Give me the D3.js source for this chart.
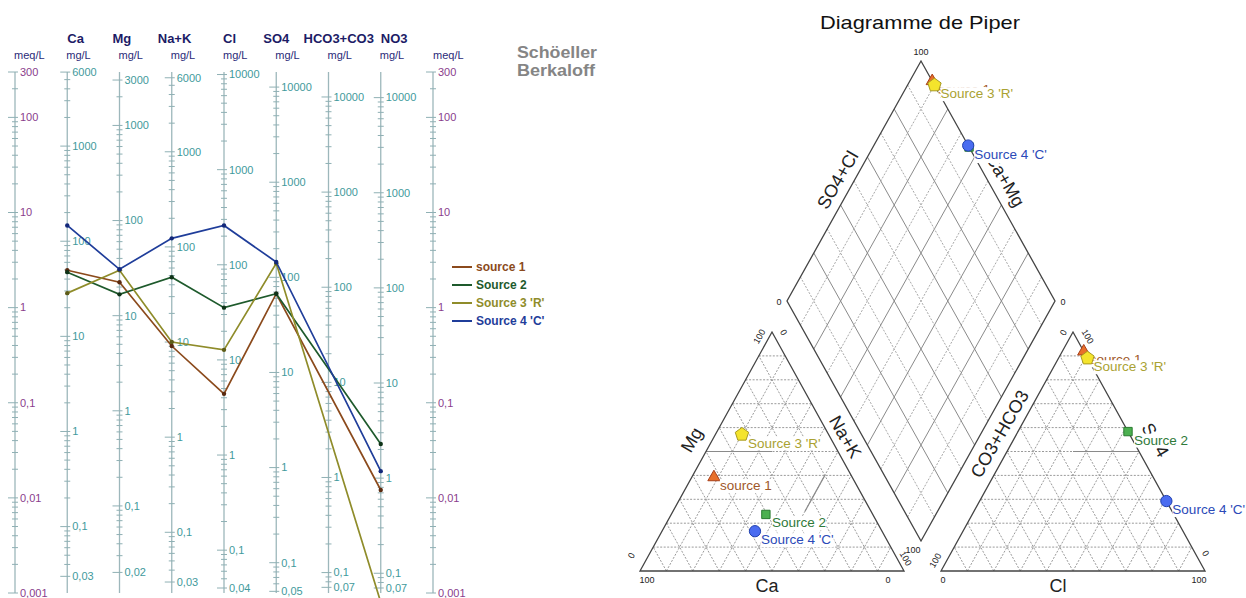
<!DOCTYPE html>
<html>
<head>
<meta charset="utf-8">
<script src="https://cdn.jsdelivr.net/npm/d3@7"></script>
<style>
body { margin: 0; background: #fff; font-family: "Liberation Sans", Arial, sans-serif; }
</style>
</head>
<body>
<div id="chart"></div>
<script>
// ---- data (meq/L) ----
var ions = ["Ca", "Mg", "Na+K", "Cl", "SO4", "HCO3+CO3", "NO3"];
var eqWeights = [20.04, 12.15, 23.0, 35.45, 48.03, 61.02, 62.0];
var meqLabels = [300, 100, 10, 1, 0.1, 0.01, 0.001];
var mgLabels = [
  [6000, 1000, 100, 10, 1, 0.1, 0.03],
  [3000, 1000, 100, 10, 1, 0.1, 0.02],
  [6000, 1000, 100, 10, 1, 0.1, 0.03],
  [10000, 1000, 100, 10, 1, 0.1, 0.04],
  [10000, 1000, 100, 10, 1, 0.1, 0.05],
  [10000, 1000, 100, 10, 1, 0.1, 0.07],
  [10000, 1000, 100, 10, 1, 0.1, 0.07]
];
var sourceNames = ["source 1", "Source 2", "Source 3 'R'", "Source 4 'C'"];
var source1 = [2.47, 1.85, 0.395, 0.124, 1.40, null, 0.0121];
var source2 = [2.36, 1.38, 2.09, 1.0, 1.40, null, 0.0369];
var source3 = [1.42, 2.47, 0.435, 0.36, 2.92, null, 0.0008];
var source4 = [7.31, 2.53, 5.35, 7.3, 3.02, null, 0.0191];
var sources = [source1, source2, source3, source4];

// styles
var lineColors = ["#8b4a1c", "#1e5a2c", "#8f8c2a", "#1f3d9a"];
var dotColors = ["#5a2a10", "#0f3318", "#5e5c18", "#13287a"];
var pipLabelColors = ["#a0582a", "#2f7a3a", "#aaa232", "#2b4ab8"];
var markFill = ["#e8702a", "#4cb050", "#f4e42c", "#4a6cf0"];
var markStroke = ["#a8401a", "#2a7a30", "#a89a20", "#2040b0"];

var svg = d3.select("#chart").append("svg")
  .attr("width", 1246).attr("height", 598);

// ================= Schoeller-Berkaloff =================
var x = d3.scalePoint().domain(["meqL"].concat(ions, ["meqR"])).range([15, 433]);
var yTop = 72, yBot = 593;
var y = d3.scaleLog().domain([300, 0.001]).range([yTop, yBot]);

function logTicks(lo, hi) {
  var t = [];
  for (var e = -4; e <= 5; e++) {
    for (var k = 1; k < 10; k++) {
      var v = +(k * Math.pow(10, e)).toPrecision(3);
      if (v >= lo * 0.999 && v <= hi * 1.001) t.push(v);
    }
  }
  return t;
}
function fmt(v) { return String(v).replace(".", ","); }

function drawAxis(xp, sc, labels, color) {
  var g = svg.append("g");
  g.append("line").attr("x1", xp).attr("x2", xp)
    .attr("y1", yTop).attr("y2", yBot)
    .attr("stroke", "#9db7bb").attr("stroke-width", 1.3);
  var dom = sc.domain();
  var ticks = logTicks(dom[1], dom[0]);
  g.selectAll("line.t").data(ticks).enter().append("line")
    .attr("class", "t")
    .attr("x1", function (d) { return labels.indexOf(d) >= 0 ? xp - 7 : xp - 3; })
    .attr("x2", xp + 3)
    .attr("y1", function (d) { return sc(d); })
    .attr("y2", function (d) { return sc(d); })
    .attr("stroke", "#8fb0b4").attr("stroke-width", 1);
  g.selectAll("text").data(labels).enter().append("text")
    .attr("x", xp + 5)
    .attr("y", function (d) { return sc(d); })
    .attr("dy", "0.35em")
    .attr("font-size", 11)
    .attr("fill", color)
    .text(fmt);
}

drawAxis(x("meqL"), y, meqLabels, "#8a3d8c");
drawAxis(x("meqR"), y, meqLabels, "#8a3d8c");
ions.forEach(function (ion, i) {
  var w = eqWeights[i];
  var sc = d3.scaleLog().domain([300 * w, 0.001 * w]).range([yTop, yBot]);
  drawAxis(x(ion), sc, mgLabels[i], "#3f9a9c");
});

// headers
var headerDx = [0, -7, -14, -1, -13, -25, 0];
ions.forEach(function (ion, i) {
  svg.append("text").attr("x", x(ion) + headerDx[i]).attr("y", 43)
    .attr("font-size", 13).attr("font-weight", "bold").attr("fill", "#1c1c66")
    .text(ion);
  svg.append("text").attr("x", x(ion) - 1).attr("y", 59)
    .attr("font-size", 11).attr("fill", "#2a2a78").text("mg/L");
});
[["meqL", 14], ["meqR", 433]].forEach(function (m) {
  svg.append("text").attr("x", m[1]).attr("y", 59)
    .attr("font-size", 11).attr("fill", "#2a2a78").text("meq/L");
});
svg.append("text").attr("x", 517).attr("y", 58)
  .attr("font-size", 16).attr("font-weight", "bold").attr("fill", "#858585")
  .attr("textLength", 80).attr("lengthAdjust", "spacingAndGlyphs").text("Schöeller");
svg.append("text").attr("x", 517).attr("y", 76)
  .attr("font-size", 16).attr("font-weight", "bold").attr("fill", "#858585")
  .attr("textLength", 78).attr("lengthAdjust", "spacingAndGlyphs").text("Berkaloff");

// series lines
var line = d3.line().x(function (d) { return x(d.ion); }).y(function (d) { return y(d.v); });
sources.forEach(function (s, k) {
  var pts = s.map(function (v, i) { return { ion: ions[i], v: v }; })
    .filter(function (d) { return d.v != null; });
  svg.append("path").attr("d", line(pts)).attr("fill", "none")
    .attr("stroke", lineColors[k]).attr("stroke-width", 1.7);
  svg.selectAll("circle.s" + k).data(pts).enter().append("circle")
    .attr("cx", function (d) { return x(d.ion); })
    .attr("cy", function (d) { return y(d.v); })
    .attr("r", 2.2).attr("fill", dotColors[k]);
});

// legend
var leg = svg.append("g").attr("transform", "translate(452,267)");
sourceNames.forEach(function (n, k) {
  leg.append("line").attr("x1", 0).attr("x2", 20).attr("y1", k * 18).attr("y2", k * 18)
    .attr("stroke", lineColors[k]).attr("stroke-width", 2);
  leg.append("text").attr("x", 24).attr("y", k * 18).attr("dy", "0.35em")
    .attr("font-size", 12).attr("font-weight", "bold").attr("fill", lineColors[k]).text(n);
});

// ================= Piper =================
var P = { x0: 640, x1: 941, base: 571, s: 264, h: 239, bx: 921, by: 541, dw: 134, dh: 240 };
function cat(ca, mg, na) { return [P.x0 + P.s * (na + mg / 2), P.base - P.h * mg]; }
function an(hc, so, cl) { return [P.x1 + P.s * (cl + so / 2), P.base - P.h * so]; }
function dia(cm, sc) { return [P.bx - cm * P.dw + sc * P.dw, P.by - (cm + sc) * P.dh]; }

var pg = svg.append("g");
function seg(a, b, dashed, color, w) {
  pg.append("line").attr("x1", a[0]).attr("y1", a[1]).attr("x2", b[0]).attr("y2", b[1])
    .attr("stroke", color).attr("stroke-width", w || 1)
    .attr("stroke-dasharray", dashed ? "2,1.5" : null);
}
d3.range(1, 10).forEach(function (i) {
  var f = i / 10;
  // cation triangle
  seg(cat(1 - f, f, 0), cat(0, f, 1 - f), true, "#9a9a9a");
  seg(cat(1 - f, 0, f), cat(0, 1 - f, f), true, "#9a9a9a");
  seg(cat(f, 0, 1 - f), cat(f, 1 - f, 0), true, "#9a9a9a");
  // anion triangle
  seg(an(1 - f, f, 0), an(0, f, 1 - f), true, "#9a9a9a");
  seg(an(1 - f, 0, f), an(0, 1 - f, f), true, "#9a9a9a");
  seg(an(f, 0, 1 - f), an(f, 1 - f, 0), true, "#9a9a9a");
  // diamond
  var solid = i % 2 === 0;
  seg(dia(f, 0), dia(f, 1), !solid, solid ? "#8a8a8a" : "#a8a8a8");
  seg(dia(0, f), dia(1, f), !solid, solid ? "#8a8a8a" : "#a8a8a8");
});
// facies lines
seg(cat(0.5, 0.5, 0), cat(0.25, 0.5, 0.25), false, "#8a8a8a", 1.2);
seg(cat(0.25, 0.25, 0.5), cat(0.1, 0.4, 0.5), false, "#8a8a8a", 1.2);
seg(an(0.25, 0.5, 0.25), an(0, 0.5, 0.5), false, "#8a8a8a", 1.2);

// outlines
var outline = d3.line();
[[cat(1, 0, 0), cat(0, 0, 1), cat(0, 1, 0)],
 [an(1, 0, 0), an(0, 0, 1), an(0, 1, 0)],
 [dia(0, 0), dia(1, 0), dia(1, 1), dia(0, 1)]].forEach(function (poly) {
  pg.append("path").attr("d", outline(poly) + "Z").attr("fill", "none")
    .attr("stroke", "#444").attr("stroke-width", 1.3);
});

// labels
function label(p, str, size, angle, anchor, color) {
  svg.append("text").attr("transform", "translate(" + p[0] + "," + p[1] + ") rotate(" + (angle || 0) + ")")
    .attr("font-size", size).attr("text-anchor", anchor || "middle")
    .attr("fill", color || "#222").text(str);
}
svg.append("text").attr("x", 920).attr("y", 29).attr("text-anchor", "middle")
  .attr("font-size", 19).attr("fill", "#111")
  .attr("textLength", 200).attr("lengthAdjust", "spacingAndGlyphs").text("Diagramme de Piper");

function off(p, dx, dy) { return [p[0] + dx, p[1] + dy]; }
// cation tick labels
label(off(cat(1, 0, 0), 7, 12), "100", 9);
label(off(cat(0, 0, 1), -16, 12), "0", 9);
label(off(cat(0, 1, 0), -10, 6), "100", 9, -60);
label(off(cat(1, 0, 0), -6, -14), "0", 9, -60);
label(off(cat(0, 1, 0), 9, 2), "0", 9, 60);
label(off(cat(0, 0, 1), -1, -11), "100", 9, 60);
// anion tick labels
label(off(an(1, 0, 0), 2, 12), "0", 9);
label(off(an(0, 0, 1), -6, 12), "100", 9);
label(off(an(0, 1, 0), -7, 2), "0", 9, -60);
label(off(an(1, 0, 0), -3, -9), "100", 9, -60);
label(off(an(0, 1, 0), 12, 6), "100", 9, 60);
label(off(an(0, 0, 1), -2, -16), "0", 9, 60);
// diamond tick labels
label(off(dia(1, 1), 0, -6), "100", 9);
label(off(dia(1, 0), -8, 4), "0", 9);
label(off(dia(0, 1), 8, 4), "0", 9);
label(off(dia(0, 0), -8, 12), "100", 9);
// axis titles
label([767, 592], "Ca", 18);
label([1058, 592], "Cl", 18);
label([697, 443], "Mg", 18, -60);
label([840, 440], "Na+K", 18, 60);
label([1005, 437], "CO3+HCO3", 18, -60);
label([1150, 443], "SO4", 18, 60);
label([843, 183], "SO4+Cl", 18, -60);
label([1000, 183], "Ca+Mg", 18, 60);

// points
function pentagon(r) {
  return d3.range(5).map(function (i) {
    var a = -Math.PI / 2 + i * 2 * Math.PI / 5;
    return [r * Math.cos(a), r * Math.sin(a)];
  });
}
var markers = [
  d3.symbol().type(d3.symbolTriangle).size(64)(),
  d3.symbol().type(d3.symbolSquare).size(70)(),
  d3.line()(pentagon(7)) + "Z",
  d3.symbol().type(d3.symbolCircle).size(100)()
];
var positions = sources.map(function (s) {
  var ct = s[0] + s[1] + s[2];
  var at = s[3] + s[4] + (s[5] || 0);
  return [
    cat(s[0] / ct, s[1] / ct, s[2] / ct),
    an((s[5] || 0) / at, s[4] / at, s[3] / at),
    dia((s[0] + s[1]) / ct, (s[3] + s[4]) / at)
  ];
});
var ptg = svg.append("g");
[0, 1, 2].forEach(function (j) {
  sources.forEach(function (s, k) {
    var p = positions[k][j];
    ptg.append("path").attr("d", markers[k])
      .attr("transform", "translate(" + p[0] + "," + p[1] + ")")
      .attr("fill", markFill[k]).attr("stroke", markStroke[k]).attr("stroke-width", 1);
    var bg = ptg.append("rect").attr("fill", "#fff");
    var t = ptg.append("text").attr("x", p[0] + 6).attr("y", p[1] + 13)
      .attr("font-size", 13.5).attr("fill", pipLabelColors[k]).text(sourceNames[k]);
    var bb = t.node().getBBox();
    bg.attr("x", bb.x).attr("y", bb.y + 1).attr("width", bb.width).attr("height", bb.height - 1);
  });
});
</script>
</body>
</html>
